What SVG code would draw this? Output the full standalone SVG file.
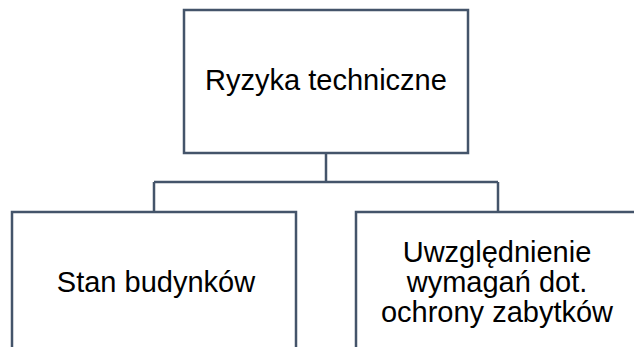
<svg xmlns="http://www.w3.org/2000/svg" width="634" height="347" viewBox="0 0 634 347">
  <style>
    .box { fill: #ffffff; stroke: #44546A; stroke-width: 2.5; }
    .link { fill: none; stroke: #44546A; stroke-width: 2.5; }
    .label { font-family: "Liberation Sans", Arial, sans-serif; font-size: 29px; fill: #000000; text-anchor: middle; }
  </style>
  <rect width="634" height="347" fill="#ffffff"/>

  <!-- connectors from the root to the two child nodes -->
  <g id="connectors">
    <path class="link" d="M326 153 V182 M154 182 H498 M154 182 V212 M498 182 V212"/>
  </g>

  <g id="node-root">
    <rect class="box" x="184" y="10" width="284" height="143"/>
    <text class="label" x="326" y="90">Ryzyka techniczne</text>
  </g>

  <g id="node-buildings">
    <rect class="box" x="12" y="212" width="284" height="143"/>
    <text class="label" x="156" y="292">Stan budynków</text>
  </g>

  <g id="node-heritage">
    <rect class="box" x="356" y="212" width="284" height="143"/>
    <text class="label" x="497" y="262">Uwzględnienie</text>
    <text class="label" x="497" y="292">wymagań dot.</text>
    <text class="label" x="497" y="322">ochrony zabytków</text>
  </g>
</svg>
